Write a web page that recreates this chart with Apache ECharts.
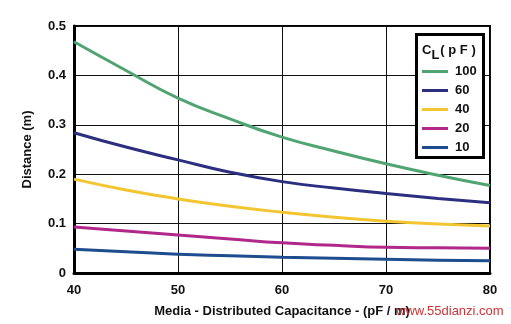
<!DOCTYPE html>
<html><head><meta charset="utf-8">
<script src="https://cdn.jsdelivr.net/npm/echarts@6/dist/echarts.min.js"></script>
<style>html,body{margin:0;padding:0;background:#fff}#c{width:511px;height:324px}</style>
</head><body><div id="c"></div>
<script>
const xValues = [40, 45, 50, 55, 60, 65, 70, 75, 80];
const seriesNames = ['100', '60', '40', '20', '10'];
const cl100 = [0.468, 0.410, 0.354, 0.312, 0.275, 0.247, 0.221, 0.198, 0.177];
const cl60  = [0.284, 0.255, 0.229, 0.204, 0.185, 0.172, 0.161, 0.151, 0.142];
const cl40  = [0.190, 0.168, 0.150, 0.135, 0.123, 0.113, 0.105, 0.099, 0.095];
const cl20  = [0.093, 0.085, 0.077, 0.069, 0.061, 0.056, 0.052, 0.051, 0.050];
const cl10  = [0.048, 0.043, 0.038, 0.035, 0.032, 0.030, 0.028, 0.026, 0.025];
const yTicks = ['0', '0.1', '0.2', '0.3', '0.4', '0.5'];
const seriesValues = [cl100, cl60, cl40, cl20, cl10];
const colors = ['#4fa470', '#2c2f80', '#f3c531', '#b1288a', '#1e4d8f'];

const chart = echarts.init(document.getElementById('c'), null, {renderer: 'canvas'});
const font = 'Liberation Sans, Arial, sans-serif';
chart.setOption({
  animation: false,
  color: colors,
  grid: {left: 74, right: 21, top: 26, bottom: 51, show: true, borderColor: '#000', borderWidth: 2, backgroundColor: 'transparent'},
  xAxis: {
    type: 'value', min: 40, max: 80, interval: 10,
    name: 'Media - Distributed Capacitance - (pF / m)', nameLocation: 'middle', nameGap: 32,
    nameTextStyle: {fontFamily: font, fontWeight: 'bold', fontSize: 13, color: '#111'},
    axisLine: {show: true, lineStyle: {color: '#000', width: 3}},
    axisTick: {show: false},
    axisLabel: {fontFamily: font, fontWeight: 'bold', fontSize: 13, color: '#111', margin: 11},
    splitLine: {show: true, lineStyle: {color: '#111', width: 1}}
  },
  yAxis: {
    type: 'value', min: 0, max: 0.5, interval: 0.1,
    name: 'Distance (m)', nameLocation: 'middle', nameGap: 40, nameRotate: 90,
    nameTextStyle: {fontFamily: font, fontWeight: 'bold', fontSize: 13, color: '#111'},
    axisLine: {show: true, lineStyle: {color: '#000', width: 3}},
    axisTick: {show: false},
    axisLabel: {fontFamily: font, fontWeight: 'bold', fontSize: 13, color: '#111', margin: 8,
      formatter: function (v) { return yTicks[Math.round(v * 10)]; }},
    splitLine: {show: true, lineStyle: {color: '#111', width: 1}}
  },
  legend: {
    orient: 'vertical', left: 417, top: 60, itemWidth: 26, itemHeight: 3, itemGap: 6,
    icon: 'rect', z: 10,
    textStyle: {fontFamily: font, fontWeight: 'bold', fontSize: 13, color: '#111', padding: [0, 0, 0, 2]},
    data: seriesNames
  },
  graphic: [
    {type: 'rect', left: 415, top: 33, z: 5, shape: {width: 67, height: 123},
     style: {fill: '#fff', stroke: '#000', lineWidth: 3}},
    {type: 'text', left: 422, top: 44, z: 6,
     style: {text: '{a|C}{b|L}{a|( p F )}', rich: {
       a: {fontFamily: font, fontWeight: 'bold', fontSize: 13, fill: '#111', verticalAlign: 'top'},
       b: {fontFamily: font, fontWeight: 'bold', fontSize: 13, fill: '#111', padding: [5, 1, 0, 0]}
     }}},
    {type: 'text', left: 396, top: 305, z: 6,
     style: {text: 'www.55dianzi.com', fontFamily: font, fontSize: 13, fill: '#cc3336'}}
  ],
  series: seriesValues.map(function (vals, i) {
    return {
      name: seriesNames[i], type: 'line', smooth: true, symbol: 'none',
      lineStyle: {width: 3, color: colors[i]},
      data: xValues.map(function (x, j) { return [x, vals[j]]; })
    };
  })
});
</script></body></html>
